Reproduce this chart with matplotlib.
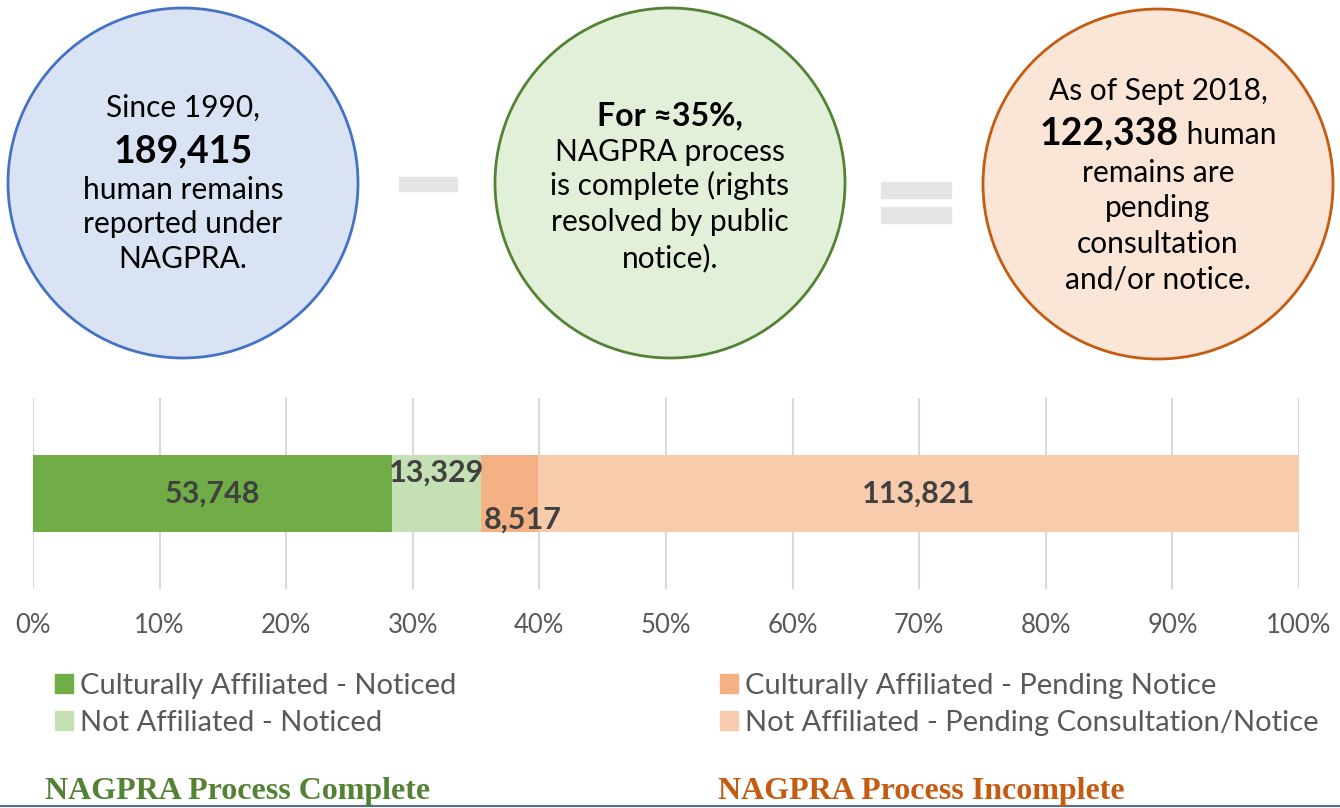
import numpy as np
import matplotlib.pyplot as plt
from matplotlib.patches import Circle, Rectangle, Patch
from matplotlib.lines import Line2D
from matplotlib.ticker import PercentFormatter

# data
categories = ['Culturally Affiliated - Noticed', 'Not Affiliated - Noticed',
              'Culturally Affiliated - Pending Notice',
              'Not Affiliated - Pending Consultation/Notice']
counts = [53748, 13329, 8517, 113821]
colors = ['#70AD47', '#C5E0B4', '#F4B183', '#F8CBAD']
ticks = np.linspace(0, 1, 11)

total = sum(counts)                   # 189,415
pending = counts[2] + counts[3]       # 122,338
pct_done = round(100 * (counts[0] + counts[1]) / total)

plt.rcParams['font.family'] = ['Lato', 'DejaVu Sans']
W, H = 1340, 808
fig = plt.figure(figsize=(W / 100, H / 100), dpi=100)

######
# circles
######
cax = fig.add_axes([0, 1 - 372 / H, 1, 372 / H])
cax.set_xlim(0, W)
cax.set_ylim(372, 0)
cax.axis('off')

circ_style = [((183, 183), '#DAE3F3', '#4472C4'),
              ((670, 183), '#E2F0D9', '#548235'),
              ((1158, 184), '#FBE5D6', '#C55A11')]
for c, fc, ec in circ_style:
    cax.add_patch(Circle(c, 175, fc=fc, ec=ec, lw=2))

# minus and equals signs
cax.add_patch(Rectangle((399, 177), 58, 14, color='#E6E6E6'))
cax.add_patch(Rectangle((881, 182), 70, 16, color='#E6E6E6'))
cax.add_patch(Rectangle((881, 207), 70, 16, color='#E6E6E6'))

reg = 21.5
big = 27


def line(x, y, s, size=reg, weight='normal'):
    cax.text(x, y, s, ha='center', va='baseline', fontsize=size,
             fontweight=weight, color='black')


line(183, 117, 'Since 1990,')
line(183, 162, f'{total:,}', size=big, weight='bold')
line(183, 199, 'human remains')
line(183, 233, 'reported under')
line(183, 268, 'NAGPRA.')

line(670, 125, f'For \u2248{pct_done}%,', size=23, weight='bold')
line(670, 161, 'NAGPRA process')
line(670, 195, 'is complete (rights')
line(670, 231, 'resolved by public')
line(670, 267, 'notice).')

line(1158, 100, 'As of Sept 2018,')
# mixed bold / regular line
t1 = cax.text(0, 144, f'{pending:,}', ha='left', va='baseline', fontsize=big,
              fontweight='bold')
t2 = cax.text(0, 144, ' human', ha='left', va='baseline', fontsize=reg)
fig.canvas.draw()
r = fig.canvas.get_renderer()
w1 = t1.get_window_extent(r).width
w2 = t2.get_window_extent(r).width
x0 = 1158 - (w1 + w2) / 2
t1.set_x(x0)
t2.set_x(x0 + w1)
line(1158, 182, 'remains are')
line(1158, 217, 'pending')
line(1158, 253, 'consultation')
line(1158, 288, 'and/or notice.')

######
# stacked bar
######
ax = fig.add_axes([33 / W, 1 - 589 / H, (1299 - 33) / W, (589 - 398) / H])
fracs = np.array(counts) / total
lefts = np.concatenate([[0], np.cumsum(fracs)[:-1]])
ax.barh(0, fracs, left=lefts, height=77 / 191, color=colors, zorder=2)
ax.set_xlim(0, 1)
ax.set_ylim(-0.5, 0.5)
ax.set_xticks(ticks)
ax.xaxis.set_major_formatter(PercentFormatter(1, decimals=0))
ax.set_yticks([])
ax.grid(axis='x', color='#D9D9D9', lw=1.5, zorder=0)
for s in ax.spines.values():
    s.set_visible(False)
ax.tick_params(axis='x', length=0, pad=17, labelsize=18.5, labelcolor='#595959')

# label nudges in points (small segments have labels shifted)
nudges = [(0, 0), (0, 15), (9, -19), (0, 0)]
for l, f, n, (dx, dy) in zip(lefts, fracs, counts, nudges):
    ax.annotate(f'{n:,}', (l + f / 2, 0), xytext=(dx, dy),
                textcoords='offset points', ha='center', va='center',
                fontsize=22, fontweight='bold', color='#404040', zorder=3)

######
# legend
######
handles = [Patch(color=c, label=k) for c, k in zip(colors, categories)]
leg_kw = dict(loc='upper left', frameon=False, fontsize=21, labelcolor='#595959',
              handlelength=0.62, handleheight=0.62, handletextpad=0.24,
              labelspacing=0.38, borderpad=0, borderaxespad=0)
fig.legend(handles=handles[:2], bbox_to_anchor=(55 / W, 1 - 673 / H), **leg_kw)
fig.legend(handles=handles[2:], bbox_to_anchor=(720 / W, 1 - 673 / H), **leg_kw)

# bottom titles
fig.text(45 / W, 1 - 799 / H, 'NAGPRA Process Complete', family='Liberation Serif',
         fontweight='bold', fontsize=23, color='#548235', va='baseline')
fig.text(718 / W, 1 - 799 / H, 'NAGPRA Process Incomplete', family='Liberation Serif',
         fontweight='bold', fontsize=23, color='#C55A11', va='baseline')
fig.add_artist(Line2D([0, 1], [1 - 806 / H] * 2, color='#4F6F95', lw=1.5))

fig.savefig('out.png', dpi=100)
